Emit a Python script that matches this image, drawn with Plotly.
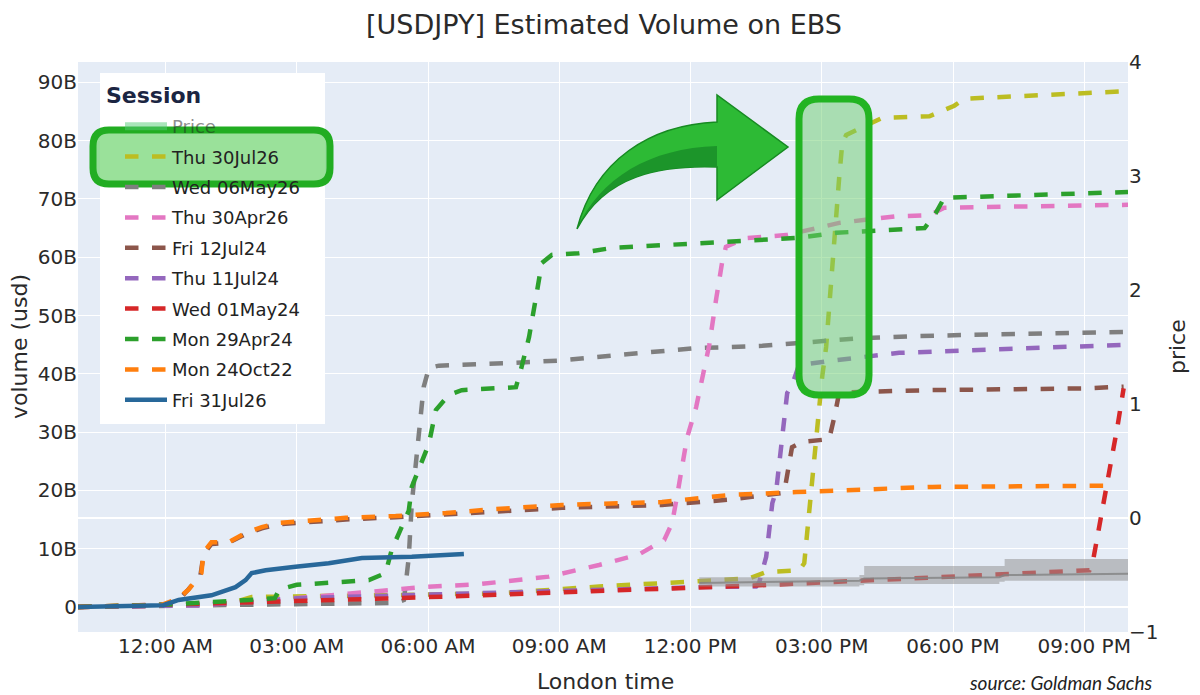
import pandas as pd
import plotly.graph_objects as go

# session day used as common x axis (hours relative to London midnight)
BASE = pd.Timestamp("2026-07-31")

# --- volume curves, hours since midnight / cumulative volume in billions ---
jul30_26_h = [-2, 1.44, 1.97, 3.2, 5.63, 7.55, 9.91, 12.36, 13.34, 13.73, 14.49, 14.6, 14.65, 14.71, 14.78,
              14.9, 15.01, 15.1, 15.17, 15.24, 15.33, 15.4, 15.47, 15.56, 16.38, 17.46, 18.03, 18.26, 22]
jul30_26_v = [0, 0.5, 1.7, 1.8, 2.0, 2.3, 3.5, 4.6, 4.9, 6.0, 6.3, 7.5, 11.5, 16.0, 20.6,
              30, 39.5, 44.6, 52, 59.5, 67, 73.8, 79.6, 81, 83.9, 84.2, 86, 87.2, 88.5]

may06_26_h = [-2, 2.59, 5.26, 5.45, 5.56, 5.63, 5.79, 5.9, 6.02, 6.25, 8.01, 9.06, 10.6, 11.58, 12.13,
              13.64, 15.86, 17.23, 22]
may06_26_v = [0, 0.4, 0.7, 1.2, 8.5, 17.8, 29, 37.7, 41, 41.4, 41.9, 42.3, 43.4, 44.0, 44.4,
              44.8, 46.1, 46.5, 47.2]

apr30_26_h = [-2, 0.75, 3.34, 5.86, 7.16, 8.76, 9.91, 10.82, 11.4, 11.58, 11.69, 11.92, 12.13, 12.27, 12.43,
              12.59, 12.72, 12.81, 13.27, 14.19, 15.4, 16.66, 17.46, 17.8, 22]
apr30_26_v = [0, 0.3, 1.7, 3.4, 3.9, 5.2, 7.2, 9, 11.5, 14.4, 18.9, 29, 34.3, 39, 45,
              53, 59, 61.8, 63.3, 63.8, 65.9, 67, 67.2, 68.5, 69]

jul12_24_h = [-2, -0.1, 0.3, 0.5, 0.8, 0.87, 1.05, 1.44, 1.83, 2.2, 2.59, 3.34, 4.12, 5.26, 6.41,
              7.55, 9.06, 11.35, 12.88, 14.14, 14.32, 14.55, 15.17, 15.3, 15.4, 17.5, 21.0, 21.9]
jul12_24_v = [0, 0.2, 1.2, 2.8, 5.5, 9.0, 10.8, 11.0, 12.5, 13.5, 14.2, 14.6, 15.0, 15.4, 15.9,
              16.5, 17.0, 17.5, 18.4, 19.6, 27.4, 28.3, 28.8, 33.0, 36.8, 37.2, 37.5, 37.8]

jul11_24_h = [-2, 0.75, 3.04, 7.62, 12.2, 13.5, 13.57, 13.73, 13.8, 13.87, 13.96, 14.1, 14.21, 14.32,
              14.48, 15.17, 16.77, 22]
jul11_24_v = [0, 0.3, 1.5, 2.5, 3.4, 3.5, 4.2, 8.6, 12.7, 17.8, 20, 30, 36.7, 38,
              41.5, 42.2, 43.6, 45]

may01_24_h = [-2, 5.33, 13.87, 16.77, 19.06, 21.12, 21.19, 21.3, 21.42, 21.51, 21.65, 21.76, 21.9]
may01_24_v = [0, 1.5, 3.8, 4.8, 5.5, 6.3, 7.5, 12, 16.6, 21.3, 27, 31, 37.5]

apr29_24_h = [-2, 0, 1.9, 2.5, 2.6, 3.0, 4.65, 5.03, 5.17, 5.4, 5.56, 5.63, 6.02, 6.18, 6.48, 6.77,
              8.01, 8.12, 8.31, 8.47, 8.6, 8.83, 9.45, 10.21, 11.35, 12.88, 14.42, 15.33, 16.38, 17.35,
              17.6, 17.8, 22]
apr29_24_v = [0, 0.4, 1.2, 1.5, 3.0, 3.8, 4.6, 5.8, 9.8, 13.5, 16.5, 20.6, 28, 33.8, 36.4, 37.2,
              37.7, 40.6, 46.3, 53.2, 59, 60.4, 60.7, 61.6, 62.1, 62.6, 63.3, 64.2, 64.7, 65,
              67.5, 70.2, 71.2]

oct24_22_h = [-2, -0.1, 0.3, 0.53, 0.82, 0.87, 1.05, 1.44, 1.83, 2.2, 2.59, 3.34, 4.12, 5.26, 6.41,
              7.55, 9.06, 11.35, 12.88, 14.42, 15.63, 17.53, 21.65]
oct24_22_v = [0, 0.3, 1.5, 3, 5.8, 9.4, 11.1, 11.1, 12.7, 13.7, 14.4, 14.8, 15.3, 15.6, 16.1,
              16.8, 17.5, 18.0, 19.2, 19.7, 20.0, 20.6, 20.8]

jul31_26_h = [-2, -0.05, 0.3, 1.05, 1.6, 1.83, 1.97, 2.29, 2.97, 3.73, 4.49, 5.63, 6.82]
jul31_26_v = [0, 0.3, 1.2, 2.0, 3.4, 4.6, 5.8, 6.3, 6.9, 7.5, 8.4, 8.6, 9.1]

# price band (secondary axis)
price_h = [12.2, 15.86, 15.97, 19.06, 19.18, 22.0]
price_hi = [-0.52, -0.50, -0.42, -0.42, -0.36, -0.35]
price_lo = [-0.60, -0.59, -0.58, -0.56, -0.55, -0.53]
price_mid = [-0.57, -0.55, -0.53, -0.52, -0.50, -0.49]

sessions = [
    ("Thu 30Jul26", jul30_26_h, jul30_26_v, "#bcbd22", "dash"),
    ("Wed 06May26", may06_26_h, may06_26_v, "#7f7f7f", "dash"),
    ("Thu 30Apr26", apr30_26_h, apr30_26_v, "#e377c2", "dash"),
    ("Fri 12Jul24", jul12_24_h, jul12_24_v, "#8c564b", "dash"),
    ("Thu 11Jul24", jul11_24_h, jul11_24_v, "#9467bd", "dash"),
    ("Wed 01May24", may01_24_h, may01_24_v, "#d62728", "dash"),
    ("Mon 29Apr24", apr29_24_h, apr29_24_v, "#2ca02c", "dash"),
    ("Mon 24Oct22", oct24_22_h, oct24_22_v, "#ff7f0e", "dash"),
    ("Fri 31Jul26", jul31_26_h, jul31_26_v, "#28689a", "solid"),
]


def to_time(hours):
    return BASE + pd.to_timedelta(hours, unit="h")


fig = go.Figure()

# price band, drawn first so it sits under the sessions
fig.add_trace(go.Scatter(x=to_time(price_h), y=price_lo, yaxis="y2", mode="lines",
                         line=dict(width=0, shape="hv"), showlegend=False, hoverinfo="skip"))
fig.add_trace(go.Scatter(x=to_time(price_h), y=price_hi, yaxis="y2", mode="lines",
                         line=dict(width=0, shape="hv"), fill="tonexty",
                         fillcolor="rgba(150,150,150,0.55)", showlegend=False, hoverinfo="skip"))
fig.add_trace(go.Scatter(x=to_time(price_h), y=price_mid, yaxis="y2", mode="lines",
                         line=dict(width=2, color="rgba(130,130,130,0.8)"), showlegend=False))
fig.add_trace(go.Scatter(x=to_time(price_h), y=price_mid, yaxis="y2", mode="lines", name="Price",
                         line=dict(width=8, color="#55cc77"), visible="legendonly",
                         legendgroup="price"))

for name, hrs, vals, color, dash in sessions:
    fig.add_trace(go.Scatter(
        x=to_time(hrs), y=[v * 1e9 for v in vals], mode="lines", name=name, legendgroup=name,
        line=dict(color=color, width=4.5, dash=dash),
    ))

# page offset of the figure div (browser body margin)
OFF = 8
W, H = 1200 - OFF, 695 - OFF
# plot area in page pixels, used to place the hand-drawn highlights
L, R, T, B = 78, 1128, 62, 632


def px(x):
    return (x - L) / (R - L)


def py(y):
    return (B - y) / (B - T)


def pt(x, y):
    return f"{px(x):.5f},{py(y):.5f}"


def rounded_rect(x0, y0, x1, y1, r):
    return (f"M {pt(x0 + r, y0)} L {pt(x1 - r, y0)} Q {pt(x1, y0)} {pt(x1, y0 + r)} "
            f"L {pt(x1, y1 - r)} Q {pt(x1, y1)} {pt(x1 - r, y1)} L {pt(x0 + r, y1)} "
            f"Q {pt(x0, y1)} {pt(x0, y1 - r)} L {pt(x0, y0 + r)} Q {pt(x0, y0)} {pt(x0 + r, y0)} Z")


arrow = (f"M {pt(577, 229)} C {pt(595, 160)} {pt(650, 125)} {pt(717, 122)} L {pt(717, 95)} "
         f"L {pt(788, 147)} L {pt(717, 200)} L {pt(717, 167)} "
         f"C {pt(660, 165)} {pt(605, 175)} {pt(577, 229)} Z")
arrow_shade = (f"M {pt(577, 229)} C {pt(600, 178)} {pt(650, 148)} {pt(717, 146)} L {pt(717, 167)} "
               f"C {pt(660, 165)} {pt(605, 175)} {pt(577, 229)} Z")

shapes = [
    # legend background (legend itself is transparent so the highlight can sit over it)
    dict(type="rect", xref="paper", yref="paper", x0=px(100), x1=px(325), y0=py(424), y1=py(73),
         fillcolor="white", line=dict(width=0), layer="above"),
    dict(type="path", xref="paper", yref="paper", path=rounded_rect(93, 130, 330, 184, 16),
         fillcolor="rgba(120,215,120,0.75)", line=dict(color="#22ad22", width=7), layer="above"),
    dict(type="path", xref="paper", yref="paper", path=rounded_rect(799, 99, 869, 395, 20),
         fillcolor="rgba(110,205,110,0.5)", line=dict(color="#22b422", width=7), layer="above"),
    dict(type="path", xref="paper", yref="paper", path=arrow,
         fillcolor="#2dba35", line=dict(color="#178a22", width=1.5), layer="above"),
    dict(type="path", xref="paper", yref="paper", path=arrow_shade,
         fillcolor="#1c952a", line=dict(width=0), layer="above"),
]

title_font = dict(size=22, color="#2a2a2a")
annotations = [
    dict(text="<b>Session</b>", xref="paper", yref="paper", x=px(104), y=py(96),
         xanchor="left", yanchor="middle", showarrow=False, font=dict(size=22, color="#1b2542")),
    dict(text="London time", xref="paper", yref="paper", x=px(605), y=py(681),
         xanchor="center", yanchor="middle", showarrow=False, font=title_font),
    dict(text="volume (usd)", xref="paper", yref="paper", x=px(19), y=py(347), textangle=-90,
         xanchor="center", yanchor="middle", showarrow=False, font=title_font),
    dict(text="price", xref="paper", yref="paper", x=px(1177), y=py(347), textangle=-90,
         xanchor="center", yanchor="middle", showarrow=False, font=title_font),
    dict(text="<i>source: Goldman Sachs</i>", xref="paper", yref="paper",
         x=px(1155), y=py(682), xanchor="right", yanchor="middle", showarrow=False,
         font=dict(family="Lato", size=19, color="#222")),
]

fig.update_layout(
    width=W, height=H,
    margin=dict(l=L - OFF, r=1200 - R, t=T - OFF, b=695 - B, autoexpand=False),
    template="plotly",
    plot_bgcolor="#e5ecf6", paper_bgcolor="white",
    font=dict(family="DejaVu Sans", size=20, color="#2a2a2a"),
    title=dict(text="[USDJPY] Estimated Volume on EBS", x=0.5, xref="container",
               y=1 - (25 - OFF) / H, yanchor="middle", font=dict(size=27, color="#2a2a2a")),
    xaxis=dict(
        range=[to_time(-2), to_time(22)], tickformat="%I:%M %p", dtick=3 * 3600 * 1000,
        tick0=BASE, gridcolor="white", automargin=False,
    ),
    yaxis=dict(
        range=[-4.3e9, 93.5e9], dtick=10e9, gridcolor="white", zerolinecolor="white",
        zerolinewidth=2, automargin=False,
    ),
    yaxis2=dict(
        overlaying="y", side="right", range=[-1, 4], dtick=1, showgrid=False,
        zeroline=True, zerolinecolor="white", zerolinewidth=2, automargin=False,
    ),
    legend=dict(
        x=px(120), y=py(108), xanchor="left", yanchor="top",
        bgcolor="rgba(0,0,0,0)", font=dict(size=18, color="#222"),
        tracegroupgap=4, itemwidth=42,
    ),
    shapes=shapes,
    annotations=annotations,
)

fig.write_html("out.html")
